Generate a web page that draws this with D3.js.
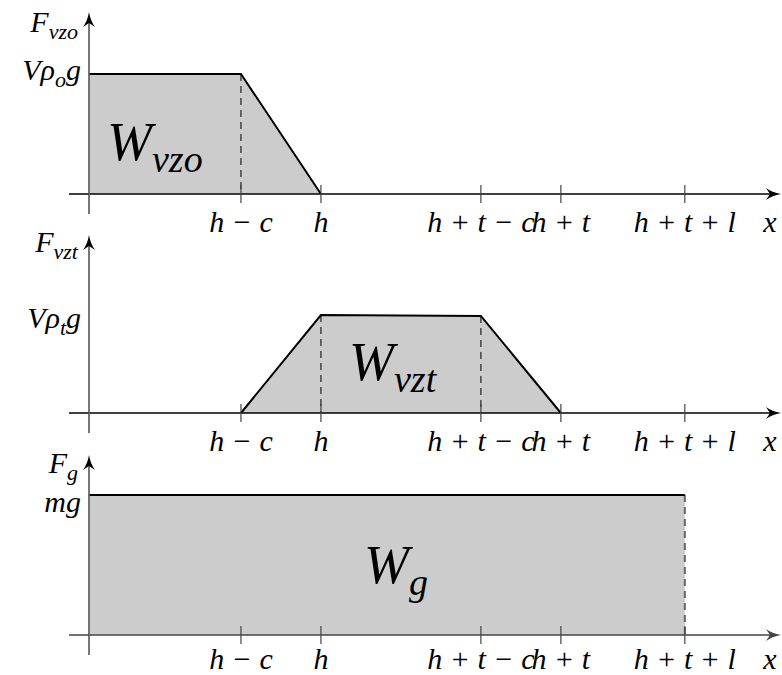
<!DOCTYPE html>
<html>
<head>
<meta charset="utf-8">
<script src="https://cdn.jsdelivr.net/npm/d3@7"></script>
<style>html, body { margin: 0; background: #fff; }</style>
</head>
<body>
<svg id="chart" width="782" height="675"></svg>
<script>
// Symbolic positions along x (h, c, t, l in arbitrary units)
const hVal = 2.9, cVal = 1.0, tVal = 3.0, lVal = 1.55;
const tickValues = [hVal - cVal, hVal, hVal + tVal - cVal, hVal + tVal, hVal + tVal + lVal];
const tickLabels = ["h − c", "h", "h + t − c", "h + t", "h + t + l"];

// Force profiles (normalised to the plateau level)
const vzoX = [0, hVal - cVal, hVal];
const vzoF = [1, 1, 0];
const vztX = [hVal - cVal, hVal, hVal + tVal - cVal, hVal + tVal];
const vztF = [0, 1, 0.99, 0];
const gX = [0, hVal + tVal + lVal];
const gF = [1, 1];

const svg = d3.select("#chart");
const x = d3.scaleLinear().domain([0, 8.64]).range([89, 780]);

const panels = [
  { base: 194, level: 74, top: 12, xs: vzoX, fs: vzoF, dashes: [hVal - cVal], dashColor: "#222", axisColor: "#000",
    yName: [["F", 0], ["vzo", 1]], yNameY: 32, yLevel: [["Vρ", 0], ["o", 1], ["g", 0]], yLevelY: 80,
    area: [["W", 0], ["vzo", 1]], areaX: 107, areaY: 160, labelDy: 38 },
  { base: 413, level: 315, top: 235, xs: vztX, fs: vztF, dashes: [hVal, hVal + tVal - cVal], dashColor: "#222", axisColor: "#000",
    yName: [["F", 0], ["vzt", 1]], yNameY: 252, yLevel: [["Vρ", 0], ["t", 1], ["g", 0]], yLevelY: 328,
    area: [["W", 0], ["vzt", 1]], areaX: 349, areaY: 380, labelDy: 38 },
  { base: 635, level: 495, top: 455, xs: gX, fs: gF, dashes: [hVal + tVal + lVal], dashColor: "#666", axisColor: "#444",
    yName: [["F", 0], ["g", 1]], yNameY: 473, yLevel: [["mg", 0]], yLevelY: 512,
    area: [["W", 0], ["g", 1]], areaX: 364, areaY: 583, labelDy: 34 }
];

// one italic serif text element, straight on the svg root
function word(str, px, py, size, anchor) {
  const t = svg.append("text")
    .attr("x", px).attr("y", py)
    .attr("font-family", "Liberation Serif")
    .attr("font-style", "italic")
    .attr("font-size", size)
    .text(str);
  if (anchor) t.attr("text-anchor", anchor);
  let w = 0;
  try { w = t.node().getComputedTextLength(); } catch (e) { w = 0; }
  return w || str.length * size * 0.5;
}

// symbol with subscripts: pieces [text, isSub], laid out left to right
function subLabel(parts, px, py, size, subSize, alignEnd) {
  const probe = parts.map(([s, sub]) => {
    const t = svg.append("text").attr("font-family", "Liberation Serif").attr("font-style", "italic")
      .attr("font-size", sub ? subSize : size).text(s);
    let w = 0;
    try { w = t.node().getComputedTextLength(); } catch (e) { w = 0; }
    t.remove();
    return w || s.length * (sub ? subSize : size) * 0.5;
  });
  const total = d3.sum(probe);
  let cx = alignEnd ? px - total : px;
  parts.forEach(([s, sub], i) => {
    word(s, cx, sub ? py + size * 0.22 : py, sub ? subSize : size);
    cx += probe[i];
  });
}

function arrowHead(tipX, tipY, dir, color) {
  // stealth-style arrow tip; dir: "right" or "up"
  const p = d3.path();
  if (dir === "right") {
    p.moveTo(tipX, tipY);
    p.quadraticCurveTo(tipX - 9, tipY - 1.5, tipX - 15, tipY - 6);
    p.lineTo(tipX - 11, tipY);
    p.lineTo(tipX - 15, tipY + 6);
    p.quadraticCurveTo(tipX - 9, tipY + 1.5, tipX, tipY);
  } else {
    p.moveTo(tipX, tipY);
    p.quadraticCurveTo(tipX - 1.5, tipY + 9, tipX - 6, tipY + 15);
    p.lineTo(tipX, tipY + 11);
    p.lineTo(tipX + 6, tipY + 15);
    p.quadraticCurveTo(tipX + 1.5, tipY + 9, tipX, tipY);
  }
  p.closePath();
  svg.append("path").attr("d", p.toString()).attr("fill", color);
}

panels.forEach(pn => {
  const y = d3.scaleLinear().domain([0, 1]).range([pn.base, pn.level]);
  const pts = pn.xs.map((v, i) => [v, pn.fs[i]]);
  const closed = pts.slice();
  if (pts[0][1] !== 0) closed.unshift([pts[0][0], 0]);
  if (pts[pts.length - 1][1] !== 0) closed.push([pts[pts.length - 1][0], 0]);

  // filled work area
  svg.append("path")
    .attr("d", d3.line().x(d => x(d[0])).y(d => y(d[1]))(closed) + "Z")
    .attr("fill", "#cccccc");

  // dashed guides at the breakpoints
  pn.dashes.forEach(v => {
    svg.append("line")
      .attr("x1", x(v)).attr("x2", x(v))
      .attr("y1", y(pn.fs[pn.xs.indexOf(v)])).attr("y2", y(0))
      .attr("stroke", pn.dashColor).attr("stroke-width", pn.dashColor === "#666" ? 2 : 1.2)
      .attr("stroke-dasharray", "7,5");
  });

  // force profile outline
  svg.append("path")
    .attr("d", d3.line().x(d => x(d[0])).y(d => y(d[1]))(pts))
    .attr("fill", "none").attr("stroke", "#000").attr("stroke-width", 2);

  // x axis
  svg.append("line").attr("x1", 69).attr("x2", 772).attr("y1", y(0)).attr("y2", y(0))
    .attr("stroke", pn.axisColor).attr("stroke-width", 1.6);
  arrowHead(781, y(0), "right", pn.axisColor);

  // y axis
  svg.append("line").attr("x1", x(0)).attr("x2", x(0)).attr("y1", y(0) + 20).attr("y2", pn.top + 8)
    .attr("stroke", "#555").attr("stroke-width", 1.6);
  arrowHead(x(0), pn.top, "up", "#000");

  // ticks and their labels
  tickValues.forEach((v, i) => {
    svg.append("line").attr("x1", x(v)).attr("x2", x(v)).attr("y1", y(0) - 9).attr("y2", y(0) + 9)
      .attr("stroke", "#444").attr("stroke-width", 1.2);
    word(tickLabels[i], x(v), y(0) + pn.labelDy, 30, "middle");
  });
  word("x", 770, y(0) + pn.labelDy, 30, "middle");

  // y labels
  subLabel(pn.yName, 78, pn.yNameY, 30, 22, true);
  subLabel(pn.yLevel, 81, pn.yLevelY, 30, 22, true);

  // area label
  subLabel(pn.area, pn.areaX, pn.areaY, 54, 38, false);
});
</script>
</body>
</html>
